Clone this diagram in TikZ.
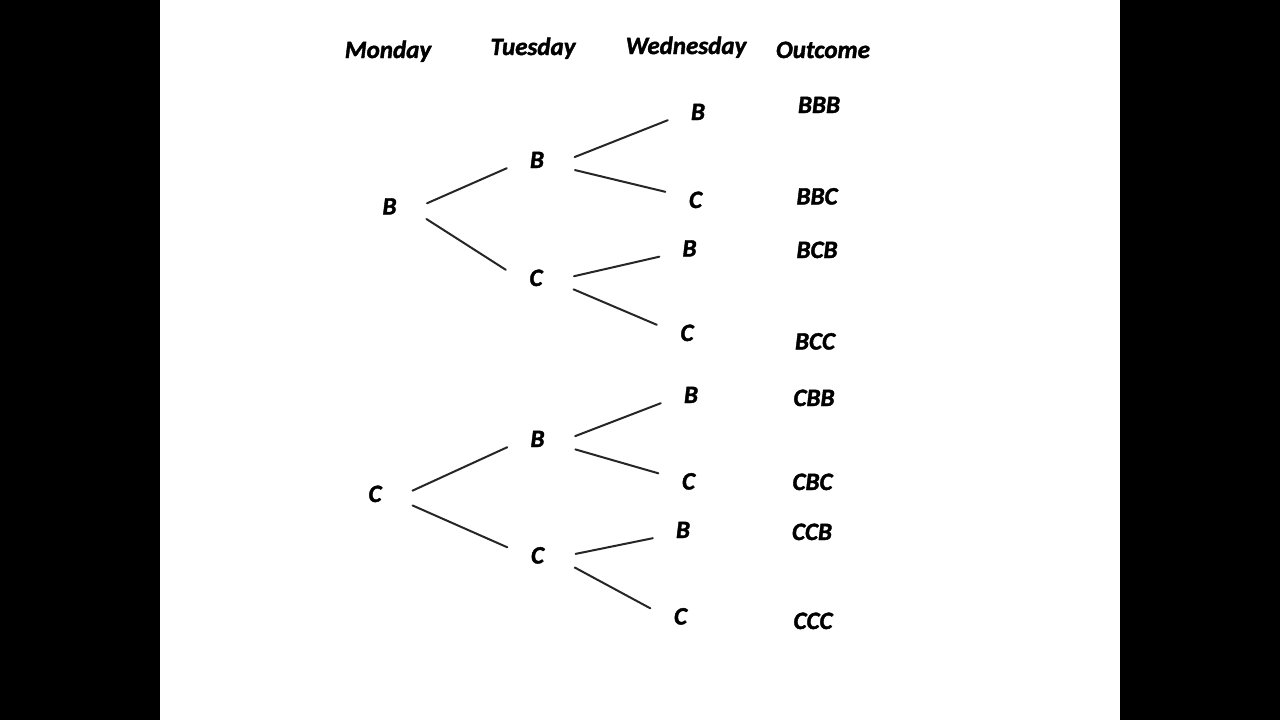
\documentclass[tikz,border=0pt]{standalone}
\usepackage{fontspec}
\setmainfont{Carlito}[BoldItalicFeatures={FakeBold=1.6}]
\begin{document}
\begin{tikzpicture}[x=1pt,y=-1pt,font=\fontsize{25}{29}\selectfont\bfseries\itshape,line join=round,line cap=round,
		lt/.style={minimum width=60pt,minimum height=16pt,inner sep=0pt,text height=16pt,text depth=0pt},
		hd/.style={inner sep=0pt,text height=16pt,text depth=0pt},
		br/.style={draw=black!85,line width=2pt,shorten <=8pt}]
			\fill[black] (0,0) rectangle (1280,720);
			\fill[white] (160,0) rectangle (1120,720);
			\node[hd] (hmon) at (388,50) {Monday};
			\node[hd] (htue) at (533,47) {Tuesday};
			\node[hd] (hwed) at (686,46) {Wednesday};
			\node[hd] (hout) at (823,50) {Outcome};
			\node[lt] (m1) at (389.5,206.5) {B};
			\node[lt] (m2) at (375,494) {C};
			\node[lt] (t1) at (537,160) {B};
			\node[lt] (t2) at (536,278) {C};
			\node[lt] (t3) at (537.5,439) {B};
			\node[lt] (t4) at (537.5,555.5) {C};
			\node[lt] (w1) at (698,112) {B};
			\node[lt] (w2) at (695.5,200) {C};
			\node[lt] (w3) at (689.5,248.5) {B};
			\node[lt] (w4) at (687,333) {C};
			\node[lt] (w5) at (691,395) {B};
			\node[lt] (w6) at (688.5,481.5) {C};
			\node[lt] (w7) at (683,530) {B};
			\node[lt] (w8) at (680.5,616.5) {C};
			\node[hd] (o1) at (819,105) {BBB};
			\node[hd] (o2) at (817,196.5) {BBC};
			\node[hd] (o3) at (817,250) {BCB};
			\node[hd] (o4) at (815,341.5) {BCC};
			\node[hd] (o5) at (814,398) {CBB};
			\node[hd] (o6) at (812.5,482) {CBC};
			\node[hd] (o7) at (812,532) {CCB};
			\node[hd] (o8) at (813,621) {CCC};
			\draw[br] (m1.east) -- (t1.south west);
			\draw[br] (m1.south east) -- (t2.north west);
			\draw[br] (m2.east) -- (t3.south west);
			\draw[br] (m2.south east) -- (t4.north west);
			\draw[br] (t1.east) -- (w1.south west);
			\draw[br] (t1.south east) -- (w2.north west);
			\draw[br] (t2.east) -- (w3.south west);
			\draw[br] (t2.south east) -- (w4.north west);
			\draw[br] (t3.east) -- (w5.south west);
			\draw[br] (t3.south east) -- (w6.north west);
			\draw[br] (t4.east) -- (w7.south west);
			\draw[br] (t4.south east) -- (w8.north west);
		\end{tikzpicture}
\end{document}
